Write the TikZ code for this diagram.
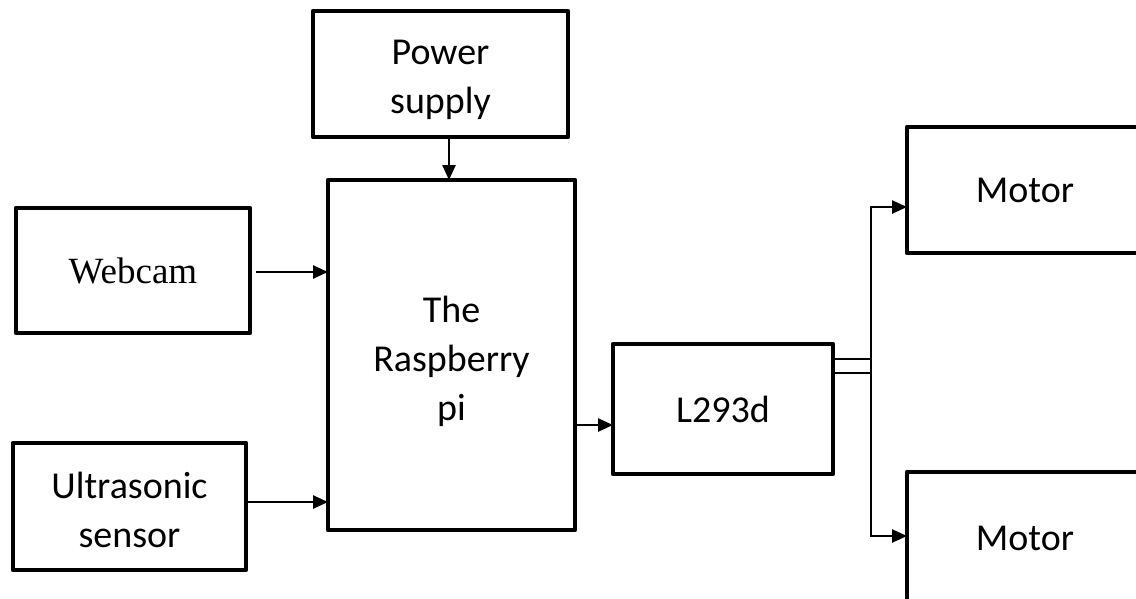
\documentclass[tikz,border=0pt]{standalone}
\usepackage{fontspec}
\setmainfont{Carlito}
\newfontfamily\timesfont{Liberation Serif}
\usetikzlibrary{arrows.meta}
\newcommand{\lift}[1]{\rule{0pt}{#1}}
\begin{document}
\begin{tikzpicture}[x=1pt,y=-1pt,
  blk/.style={draw, line width=4.5pt, inner sep=0pt, outer sep=0pt, align=center,
    font=\fontsize{38}{49}\selectfont, line join=round},
  conn/.style={line width=2.5pt},
  arr/.style={conn, -{Triangle[length=15pt,width=13pt]}}]
\clip (0,0) rectangle (1136,598);
\fill[white] (0,0) rectangle (1136,598);
\node[blk, minimum width=255pt, minimum height=126pt] (ps) at (440.5,74) {\lift{36pt}Power\\supply};
\node[blk, minimum width=247pt, minimum height=350pt] (rp) at (451.5,355) {\lift{40pt}The\\Raspberry\\pi};
\node[blk, minimum width=234pt, minimum height=125pt, font=\timesfont\fontsize{37}{45}\selectfont] (wc) at (133,270.5) {Webcam};
\node[blk, minimum width=233pt, minimum height=127pt] (us) at (129.5,506.5) {\lift{33pt}Ultrasonic\\sensor};
\node[blk, minimum width=220pt, minimum height=130pt] (l2) at (723,409) {L293d};
\node[blk, minimum width=236pt, minimum height=126pt] (m1) at (1025,190) {Motor};
\node[blk, minimum width=236pt, minimum height=132pt] (m2) at (1025,538) {Motor};
\coordinate (bus) at (871,366);
\draw[arr] ([xshift=8.5pt]ps.south) -- ([xshift=8.5pt]ps.south |- rp.north);
\draw[arr] ([xshift=6pt,yshift=-1.5pt]wc.east) -- ([yshift=-1.5pt]wc.east -| rp.west);
\draw[arr] ([yshift=4.5pt]us.east) -- ([yshift=4.5pt]us.east -| rp.west);
\draw[arr] ([yshift=-16pt]l2.west -| rp.east) -- ([yshift=-16pt]l2.west);
\draw[conn] ([yshift=50pt]l2.east) -- ([yshift=50pt]l2.east -| bus);
\draw[conn] ([yshift=36pt]l2.east) -- ([yshift=36pt]l2.east -| bus);
\draw[conn, {Triangle[length=15pt,width=13pt]}-{Triangle[length=15pt,width=13pt]}]
  ([yshift=-17pt]m1.west) -| (bus) |- ([yshift=2pt]m2.west);
\end{tikzpicture}
\end{document}
